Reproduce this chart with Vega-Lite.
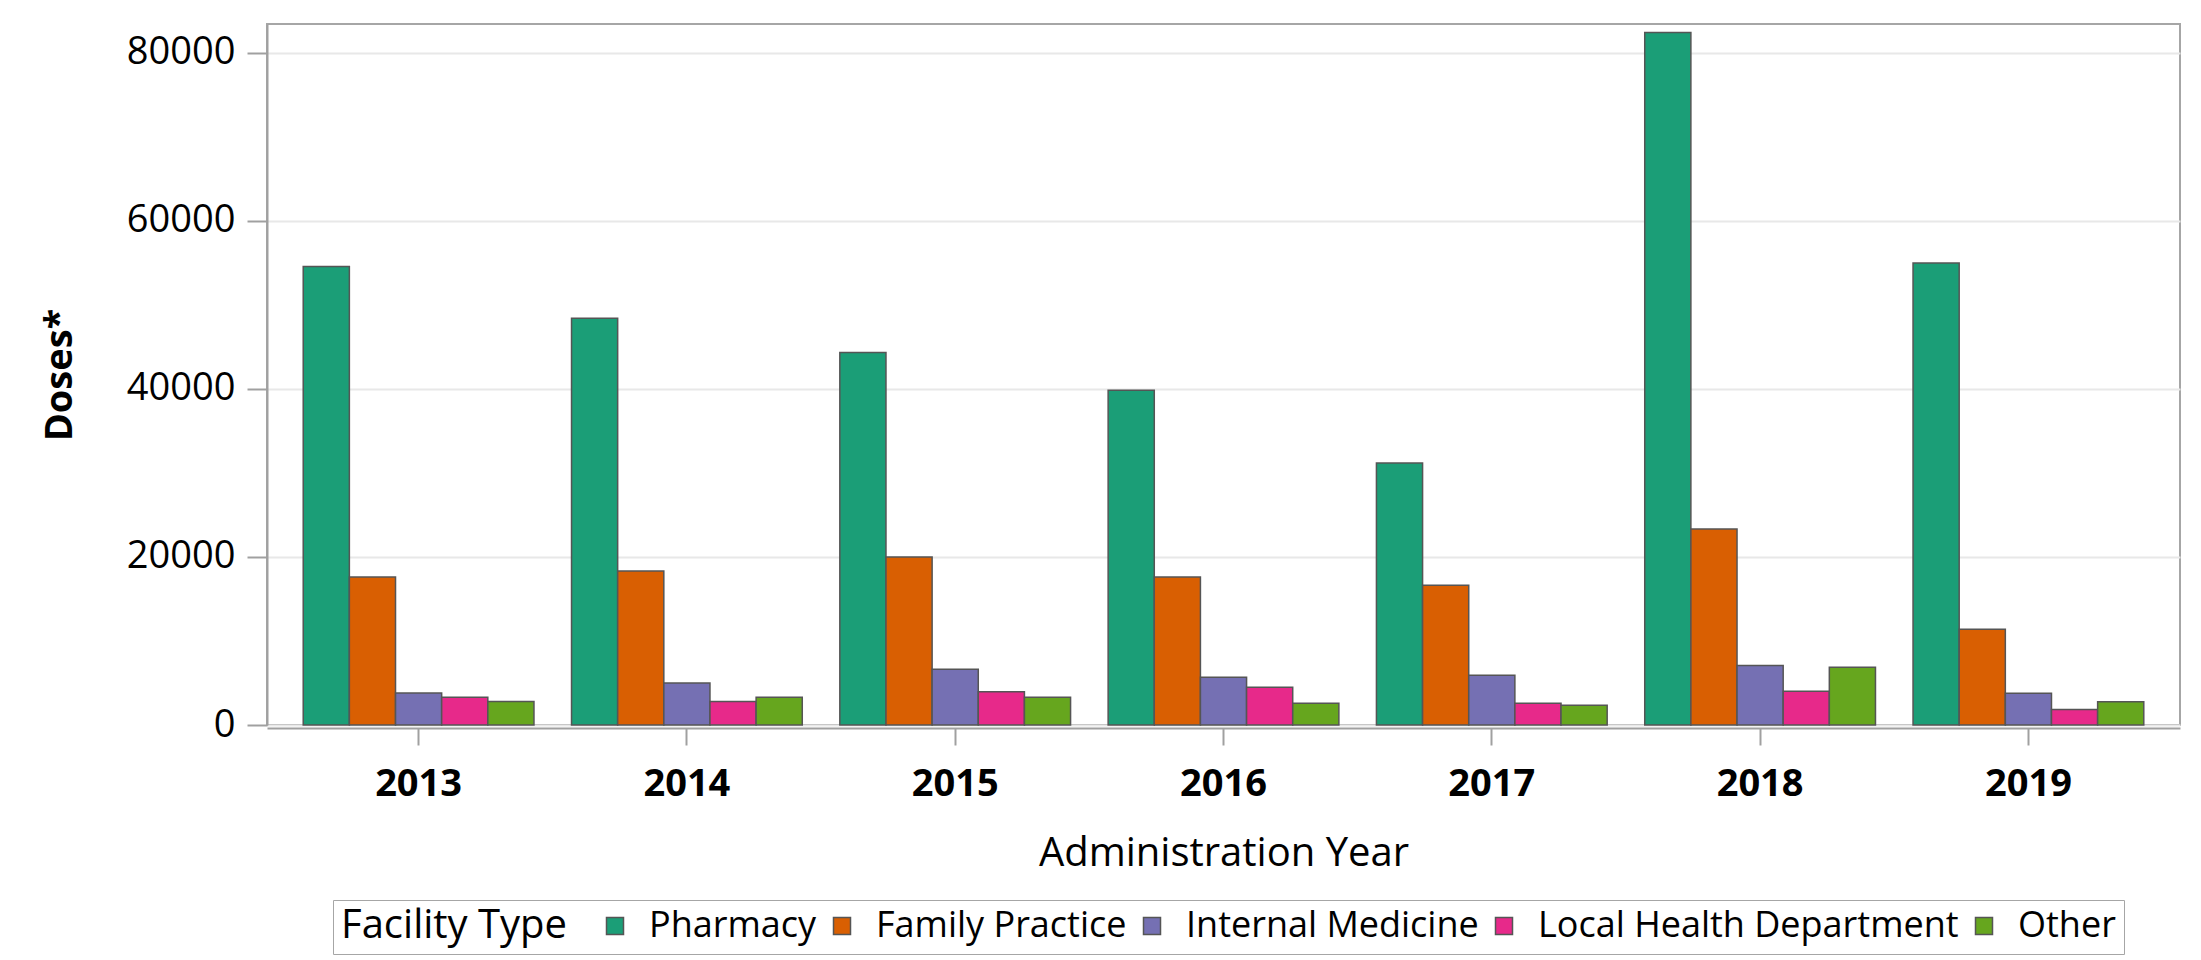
{
  "$schema": "https://vega.github.io/schema/vega-lite/v6.json",
  "autosize": "none",
  "width": 1913,
  "height": 701,
  "padding": {"left": 267, "top": 24, "right": 21, "bottom": 235},
  "background": "white",
  "config": {
    "font": "Open Sans",
    "view": {"stroke": "#a6a6a6", "strokeWidth": 2},
    "axis": {"labelFont": "Open Sans", "titleFont": "Open Sans", "labelColor": "#000", "titleColor": "#000", "domainColor": "#a0a0a0", "domainWidth": 2, "tickColor": "#a0a0a0", "tickWidth": 2}
  },
  "data": {"values": [
    {"year": "2013", "type": "Pharmacy", "doses": 54550},
    {"year": "2013", "type": "Family Practice", "doses": 17600},
    {"year": "2013", "type": "Internal Medicine", "doses": 3800},
    {"year": "2013", "type": "Local Health Department", "doses": 3300},
    {"year": "2013", "type": "Other", "doses": 2800},
    {"year": "2014", "type": "Pharmacy", "doses": 48400},
    {"year": "2014", "type": "Family Practice", "doses": 18320},
    {"year": "2014", "type": "Internal Medicine", "doses": 5000},
    {"year": "2014", "type": "Local Health Department", "doses": 2800},
    {"year": "2014", "type": "Other", "doses": 3300},
    {"year": "2015", "type": "Pharmacy", "doses": 44320},
    {"year": "2015", "type": "Family Practice", "doses": 19980},
    {"year": "2015", "type": "Internal Medicine", "doses": 6630},
    {"year": "2015", "type": "Local Health Department", "doses": 3970},
    {"year": "2015", "type": "Other", "doses": 3300},
    {"year": "2016", "type": "Pharmacy", "doses": 39820},
    {"year": "2016", "type": "Family Practice", "doses": 17600},
    {"year": "2016", "type": "Internal Medicine", "doses": 5680},
    {"year": "2016", "type": "Local Health Department", "doses": 4490},
    {"year": "2016", "type": "Other", "doses": 2600},
    {"year": "2017", "type": "Pharmacy", "doses": 31170},
    {"year": "2017", "type": "Family Practice", "doses": 16640},
    {"year": "2017", "type": "Internal Medicine", "doses": 5920},
    {"year": "2017", "type": "Local Health Department", "doses": 2580},
    {"year": "2017", "type": "Other", "doses": 2340},
    {"year": "2018", "type": "Pharmacy", "doses": 82380},
    {"year": "2018", "type": "Family Practice", "doses": 23320},
    {"year": "2018", "type": "Internal Medicine", "doses": 7070},
    {"year": "2018", "type": "Local Health Department", "doses": 4010},
    {"year": "2018", "type": "Other", "doses": 6870},
    {"year": "2019", "type": "Pharmacy", "doses": 54970},
    {"year": "2019", "type": "Family Practice", "doses": 11400},
    {"year": "2019", "type": "Internal Medicine", "doses": 3780},
    {"year": "2019", "type": "Local Health Department", "doses": 1830},
    {"year": "2019", "type": "Other", "doses": 2780}
  ]},
  "mark": {"type": "bar", "stroke": "#555555", "strokeWidth": 1.5},
  "encoding": {
    "x": {
      "field": "year", "type": "nominal",
      "scale": {"paddingInner": 0.14, "paddingOuter": 0.135},
      "axis": {"title": "Administration Year", "labelAngle": 0, "labelFontSize": 38, "labelFontWeight": "bold", "titleFontSize": 40, "titleFontWeight": "normal", "tickSize": 17, "labelPadding": 20, "titlePadding": 30, "offset": 3, "grid": false}
    },
    "xOffset": {"field": "type", "type": "nominal", "sort": ["Pharmacy", "Family Practice", "Internal Medicine", "Local Health Department", "Other"], "scale": {"paddingInner": 0, "paddingOuter": 0}},
    "y": {
      "field": "doses", "type": "quantitative",
      "scale": {"domain": [0, 83400], "nice": false},
      "axis": {"title": "Doses*", "values": [0, 20000, 40000, 60000, 80000], "format": "d", "labelFontSize": 38, "titleFontSize": 38, "titleFontWeight": "bold", "tickSize": 20, "labelPadding": 12, "titlePadding": 47, "gridColor": "#e8e8e8", "gridWidth": 2}
    },
    "color": {
      "field": "type", "type": "nominal",
      "sort": ["Pharmacy", "Family Practice", "Internal Medicine", "Local Health Department", "Other"],
      "scale": {"range": ["#1b9e77", "#d95f02", "#7570b3", "#e7298a", "#66a61e"]},
      "legend": {
        "title": "Facility Type", "orient": "none", "legendX": 66, "legendY": 876,
        "direction": "horizontal", "titleOrient": "left", "titleFontSize": 40, "titleFontWeight": "normal", "titleColor": "#000", "titleFont": "Open Sans", "titlePadding": 29, "titleLimit": 2000,
        "labelFontSize": 36, "labelFont": "Open Sans", "labelColor": "#000", "labelOffset": 16, "columnPadding": 7, "labelLimit": 2000,
        "symbolType": "square", "symbolSize": 289, "symbolStrokeColor": "#555555", "symbolStrokeWidth": 1.5,
        "strokeColor": "#a6a6a6", "padding": 8
      }
    }
  }
}
